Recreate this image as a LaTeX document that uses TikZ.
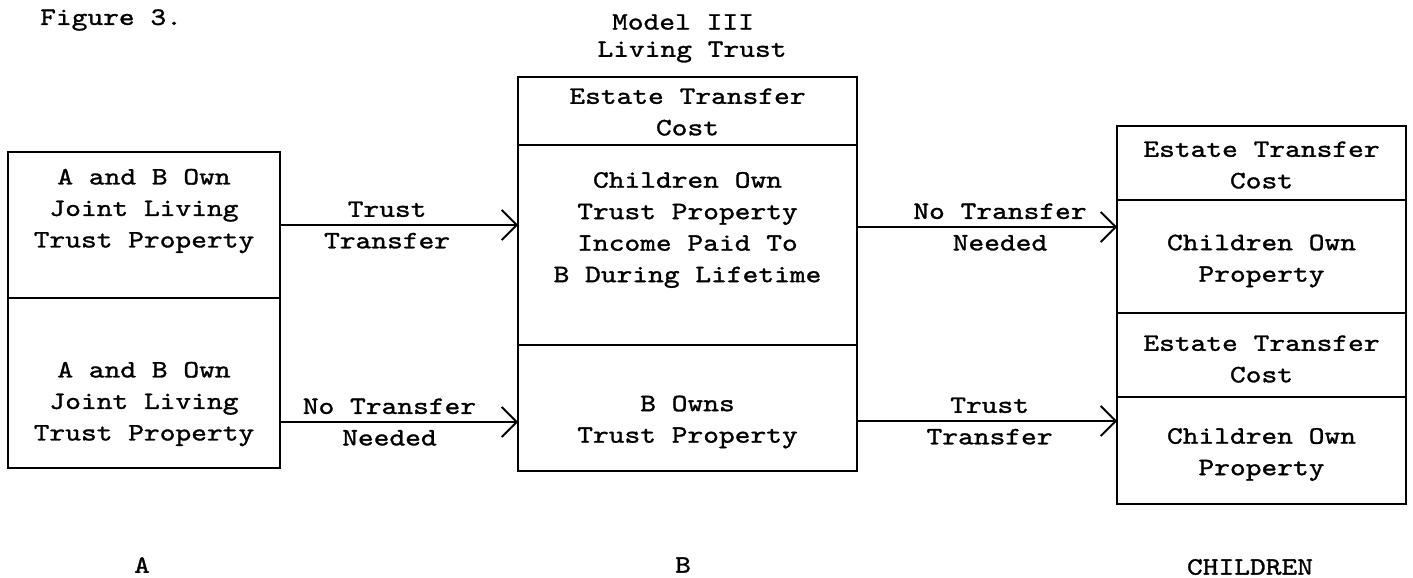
\documentclass[tikz,border=0pt]{standalone}
\usepackage{fontspec}
\setmonofont{lmmono10-regular.otf}[FakeStretch=1.2,FakeBold=1.2]
\usetikzlibrary{arrows.meta}
\newcommand\tyfont{\ttfamily\fontsize{25}{31.5}\selectfont}
\begin{document}
\begin{tikzpicture}[x=1pt,y=-1pt,
  sec/.style={draw, line width=1.8pt, inner sep=0pt, outer sep=0pt, rectangle},
  txt/.style={inner sep=0pt, align=center, font=\tyfont},
  arr/.style={line width=1.8pt, -{Straight Barb[length=15pt,width=30pt,line width=1.8pt]}},
  lbl/.style={inner sep=0pt, align=center, font=\tyfont}]
\useasboundingbox (0,0) rectangle (1413,578);

% headings
\node[txt, anchor=west] (fig) at (40,20) {Figure 3.};
\node[txt] (t1) at (683,22) {Model III};
\node[txt] (t2) at (692,52) {Living Trust};

% box A
\node[sec, minimum width=272pt, minimum height=146pt] (a1) at (144,225) {};
\node[sec, minimum width=272pt, minimum height=170pt] (a2) at (144,383) {};
\node[txt] (a1t) at (144,211) {A and B Own\\Joint Living\\Trust Property};
\node[txt] (a2t) at (144,404) {A and B Own\\Joint Living\\Trust Property};

% box B
\node[sec, minimum width=339pt, minimum height=68pt] (b1) at (687.5,111) {};
\node[sec, minimum width=339pt, minimum height=200pt] (b2) at (687.5,245) {};
\node[sec, minimum width=339pt, minimum height=126pt] (b3) at (687.5,408) {};
\node[txt] (b1t) at (687.5,112) {Estate Transfer\\Cost};
\node[txt] (b2t) at (687.5,230) {Children Own\\Trust Property\\Income Paid To\\B During Lifetime};
\node[txt] (b3t) at (687.5,422) {B Owns\\Trust Property};

% box C
\node[sec, minimum width=289pt, minimum height=74pt] (c1) at (1261.5,163) {};
\node[sec, minimum width=289pt, minimum height=113pt] (c2) at (1261.5,256.5) {};
\node[sec, minimum width=289pt, minimum height=84pt] (c3) at (1261.5,355) {};
\node[sec, minimum width=289pt, minimum height=107pt] (c4) at (1261.5,450.5) {};
\node[txt] (c1t) at (1261.5,165) {Estate Transfer\\Cost};
\node[txt] (c2t) at (1261.5,261) {Children Own\\Property};
\node[txt] (c3t) at (1261.5,359) {Estate Transfer\\Cost};
\node[txt] (c4t) at (1261.5,454.5) {Children Own\\Property};

% arrows
\draw[arr] (a1.east) -- node[lbl,pos=0.45] (l1) {Trust\\Transfer} ([yshift=20pt]b2.west);
\draw[arr] ([yshift=-39pt]a2.east) -- node[lbl,pos=0.46] (l2) {No Transfer\\Needed} ([yshift=-14pt]b3.west);
\draw[arr] ([yshift=18pt]b2.east) -- node[lbl,pos=0.55] (l3) {No Transfer\\Needed} ([yshift=29.5pt]c2.west);
\draw[arr] ([yshift=-13pt]b3.east) -- node[lbl,pos=0.51] (l4) {Trust\\Transfer} ([yshift=29.5pt]c4.west);

% bottom labels
\node[txt] (la) at (142,565) {A};
\node[txt] (lb) at (683,565) {B};
\node[txt] (lc) at (1250,567) {CHILDREN};
\end{tikzpicture}
\end{document}
